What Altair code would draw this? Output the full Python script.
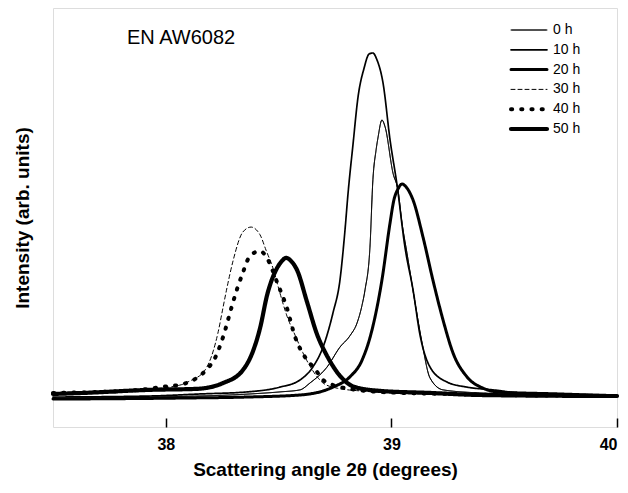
import altair as alt
import pandas as pd

series = ["0 h", "10 h", "20 h", "30 h", "40 h", "50 h"]

x_0h = [37.500, 37.930, 38.373, 38.506, 38.595, 38.639, 38.715, 38.772, 38.816, 38.848,
        38.870, 38.883, 38.905, 38.918, 38.932, 38.941, 38.958, 38.972, 39.007, 39.029,
        39.047, 39.069, 39.105, 39.136, 39.171, 39.229, 39.393, 39.747, 40.000]
y_0h = [-0.009, -0.006, 0.003, 0.009, 0.015, 0.035, 0.082, 0.140, 0.173, 0.211,
        0.263, 0.307, 0.433, 0.629, 0.716, 0.754, 0.804, 0.784, 0.649, 0.599,
        0.503, 0.415, 0.269, 0.152, 0.050, 0.015, 0.006, 0.000, -0.003]

x_10h = [37.500, 37.930, 38.152, 38.360, 38.506, 38.595, 38.652, 38.697, 38.741, 38.772,
         38.794, 38.808, 38.830, 38.852, 38.879, 38.901, 38.918, 38.936, 38.963, 38.994,
         39.025, 39.060, 39.096, 39.127, 39.171, 39.246, 39.335, 39.450, 39.570, 40.000]
y_10h = [-0.006, -0.003, 0.003, 0.009, 0.023, 0.044, 0.082, 0.140, 0.240, 0.336,
         0.480, 0.591, 0.734, 0.871, 0.956, 0.997, 1.000, 0.980, 0.912, 0.746,
         0.614, 0.433, 0.307, 0.175, 0.082, 0.038, 0.023, 0.015, 0.006, -0.003]

x_20h = [37.500, 38.063, 38.360, 38.595, 38.741, 38.816, 38.870, 38.914, 38.958, 38.994,
         39.011, 39.029, 39.047, 39.069, 39.096, 39.140, 39.184, 39.229, 39.273, 39.335,
         39.406, 39.468, 39.747, 40.000]
y_20h = [-0.012, -0.009, -0.006, 0.000, 0.023, 0.053, 0.102, 0.190, 0.336, 0.503,
         0.570, 0.602, 0.617, 0.605, 0.570, 0.462, 0.336, 0.219, 0.123, 0.053,
         0.020, 0.009, 0.003, -0.003]

x_30h = [37.500, 37.633, 37.886, 38.063, 38.107, 38.174, 38.209, 38.231, 38.254, 38.271,
         38.298, 38.342, 38.378, 38.418, 38.444, 38.475, 38.506, 38.537, 38.573, 38.608,
         38.644, 38.675, 38.697, 38.759, 38.861, 39.038, 40.000]
y_30h = [0.006, 0.009, 0.015, 0.029, 0.041, 0.073, 0.126, 0.181, 0.257, 0.313,
         0.392, 0.477, 0.491, 0.468, 0.424, 0.371, 0.298, 0.231, 0.175, 0.123,
         0.079, 0.050, 0.035, 0.020, 0.012, 0.006, -0.003]

x_40h = [37.500, 37.708, 37.886, 37.974, 38.076, 38.138, 38.183, 38.218, 38.254, 38.293,
         38.316, 38.338, 38.373, 38.418, 38.453, 38.493, 38.537, 38.573, 38.617, 38.661,
         38.697, 38.741, 38.816, 38.949, 39.260, 40.000]
y_40h = [0.006, 0.009, 0.015, 0.023, 0.032, 0.050, 0.076, 0.108, 0.170, 0.260,
         0.310, 0.351, 0.406, 0.421, 0.395, 0.330, 0.254, 0.170, 0.111, 0.076,
         0.044, 0.029, 0.018, 0.009, 0.003, -0.003]

x_50h = [37.500, 37.633, 37.930, 38.138, 38.254, 38.342, 38.387, 38.418, 38.449, 38.493,
         38.515, 38.533, 38.555, 38.582, 38.626, 38.670, 38.715, 38.772, 38.839, 38.949,
         39.171, 39.393, 40.000]
y_50h = [0.003, 0.006, 0.015, 0.018, 0.035, 0.073, 0.129, 0.196, 0.292, 0.371,
         0.392, 0.401, 0.392, 0.365, 0.272, 0.178, 0.114, 0.056, 0.023, 0.012,
         0.006, 0.000, -0.003]

x_ticks = [38, 39, 40]
sample_label = "EN AW6082"

dashes = [[1, 0], [1, 0], [1, 0], [4, 3], [1.2, 9], [1, 0]]
widths = [1.0, 1.7, 3.0, 1.0, 4.0, 4.2]

rows = []
for name, xs, ys in [("0 h", x_0h, y_0h), ("10 h", x_10h, y_10h), ("20 h", x_20h, y_20h),
                     ("30 h", x_30h, y_30h), ("40 h", x_40h, y_40h), ("50 h", x_50h, y_50h)]:
    for a, b in zip(xs, ys):
        rows.append({"series": name, "angle": a, "intensity": b})
df = pd.DataFrame(rows)
legend_df = pd.DataFrame({"series": series})

FONT = "Liberation Sans"

dash_enc = alt.StrokeDash("series:N", scale=alt.Scale(domain=series, range=dashes), legend=None)
width_enc = alt.StrokeWidth("series:N",
                            scale=alt.Scale(type="ordinal", domain=series, range=widths),
                            legend=None)

lines = alt.Chart(df).mark_line(
    color="black", interpolate="monotone", strokeCap="round", strokeJoin="round"
).encode(
    x=alt.X("angle:Q",
            scale=alt.Scale(domain=[37.5, 40], nice=False, zero=False),
            axis=alt.Axis(values=x_ticks, title="Scattering angle 2θ (degrees)", grid=False,
                          domain=False, tickSize=9, offset=-9, tickColor="black", tickWidth=1.5,
                          labelFont=FONT, labelFontWeight="bold", labelFontSize=16,
                          labelColor="black", labelPadding=9,
                          titleFont=FONT, titleFontWeight="bold", titleFontSize=19,
                          titleColor="black", titlePadding=8, titleX=272)),
    y=alt.Y("intensity:Q",
            scale=alt.Scale(domain=[-0.0936, 1.1316], nice=False, zero=False),
            axis=alt.Axis(labels=False, ticks=False, domain=False, grid=False,
                          title="Intensity (arb. units)", titleFont=FONT,
                          titleFontWeight="bold", titleFontSize=19, titleColor="black",
                          titlePadding=21)),
    strokeDash=dash_enc,
    strokeWidth=width_enc,
)

leg_y = alt.Y("series:N", scale=alt.Scale(type="point", domain=series, range=[22, 121], padding=0),
              axis=None)

legend_rules = alt.Chart(legend_df).mark_rule(color="black", strokeCap="round").encode(
    x=alt.value(458), x2=alt.value(494), y=leg_y,
    strokeDash=dash_enc, strokeWidth=width_enc,
)

legend_text = alt.Chart(legend_df).mark_text(
    font=FONT, fontSize=14, align="left", baseline="middle", color="black"
).encode(x=alt.value(500), y=leg_y, text="series:N")

label = alt.Chart(pd.DataFrame({"t": [sample_label]})).mark_text(
    font=FONT, fontSize=20, align="left", baseline="middle", color="black"
).encode(text="t:N", x=alt.value(74), y=alt.value(30))

chart = alt.layer(lines, legend_rules, legend_text, label).resolve_scale(
    y="independent"
).properties(
    width=564, height=419,
    padding={"left": 5, "top": 0, "right": 0, "bottom": 12},
).configure_view(stroke="black", strokeWidth=1.5).configure(background="white")

chart.save("out.html", embed_options={"renderer": "svg", "actions": False})
